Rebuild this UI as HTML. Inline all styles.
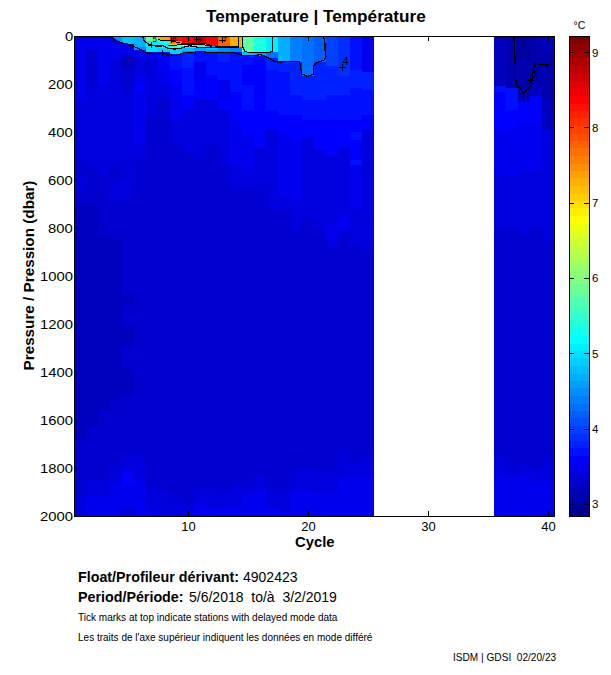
<!DOCTYPE html>
<html><head><meta charset="utf-8"><style>
html,body{margin:0;padding:0;background:#fff;}
body{width:611px;height:675px;position:relative;overflow:hidden;font-family:"Liberation Sans",sans-serif;color:#000;}
div{line-height:1;}
</style></head><body>
<svg width="611" height="675" style="position:absolute;left:0;top:0" shape-rendering="crispEdges"><rect x="74" y="36" width="12" height="64" fill="#0000ef"/><rect x="74" y="100" width="12" height="37" fill="#0000df"/><rect x="74" y="137" width="12" height="23" fill="#0000df"/><rect x="74" y="160" width="12" height="15" fill="#0000cf"/><rect x="74" y="175" width="12" height="15" fill="#0000df"/><rect x="74" y="190" width="12" height="15" fill="#0000cf"/><rect x="74" y="205" width="12" height="235" fill="#0000bf"/><rect x="74" y="440" width="12" height="56" fill="#0000cf"/><rect x="74" y="496" width="12" height="20" fill="#0000df"/><rect x="86" y="36" width="12" height="14" fill="#0000ef"/><rect x="86" y="50" width="12" height="35" fill="#0000cf"/><rect x="86" y="85" width="12" height="55" fill="#0000df"/><rect x="86" y="140" width="12" height="25" fill="#0000df"/><rect x="86" y="165" width="12" height="40" fill="#0000cf"/><rect x="86" y="205" width="12" height="221" fill="#0000bf"/><rect x="86" y="426" width="12" height="54" fill="#0000cf"/><rect x="86" y="480" width="12" height="16" fill="#0000df"/><rect x="86" y="496" width="12" height="11" fill="#0000ef"/><rect x="86" y="507" width="12" height="9" fill="#0000ef"/><rect x="98" y="36" width="12" height="49" fill="#0000ef"/><rect x="98" y="85" width="12" height="93" fill="#0000df"/><rect x="98" y="178" width="12" height="57" fill="#0000cf"/><rect x="98" y="235" width="12" height="175" fill="#0000bf"/><rect x="98" y="410" width="12" height="70" fill="#0000cf"/><rect x="98" y="480" width="12" height="16" fill="#0000df"/><rect x="98" y="496" width="12" height="20" fill="#0000ef"/><rect x="110" y="36" width="12" height="4" fill="#0000ff"/><rect x="110" y="40" width="12" height="20" fill="#0000ef"/><rect x="110" y="60" width="12" height="40" fill="#0000df"/><rect x="110" y="100" width="12" height="65" fill="#0000df"/><rect x="110" y="165" width="12" height="15" fill="#0000cf"/><rect x="110" y="180" width="12" height="20" fill="#0000df"/><rect x="110" y="200" width="12" height="40" fill="#0000cf"/><rect x="110" y="240" width="12" height="160" fill="#0000bf"/><rect x="110" y="400" width="12" height="65" fill="#0000cf"/><rect x="110" y="465" width="12" height="19" fill="#0000df"/><rect x="110" y="484" width="12" height="32" fill="#0000ef"/><rect x="122" y="36" width="12" height="8" fill="#00bfff"/><rect x="122" y="44" width="12" height="11" fill="#0000ef"/><rect x="122" y="55" width="12" height="12" fill="#0000bf"/><rect x="122" y="67" width="12" height="25" fill="#0000cf"/><rect x="122" y="92" width="12" height="108" fill="#0000df"/><rect x="122" y="200" width="12" height="76" fill="#0000cf"/><rect x="122" y="276" width="12" height="20" fill="#0000cf"/><rect x="122" y="296" width="12" height="10" fill="#0000bf"/><rect x="122" y="306" width="12" height="20" fill="#0000cf"/><rect x="122" y="326" width="12" height="22" fill="#0000bf"/><rect x="122" y="348" width="12" height="22" fill="#0000cf"/><rect x="122" y="370" width="12" height="26" fill="#0000bf"/><rect x="122" y="396" width="12" height="59" fill="#0000cf"/><rect x="122" y="455" width="12" height="17" fill="#0000df"/><rect x="122" y="472" width="12" height="12" fill="#0000ff"/><rect x="122" y="484" width="12" height="23" fill="#0000ef"/><rect x="122" y="507" width="12" height="9" fill="#0000df"/><rect x="134" y="36" width="12" height="11" fill="#00afff"/><rect x="134" y="47" width="12" height="3" fill="#008fff"/><rect x="134" y="50" width="12" height="8" fill="#0000ef"/><rect x="134" y="58" width="12" height="15" fill="#0000df"/><rect x="134" y="73" width="12" height="11" fill="#0000ef"/><rect x="134" y="84" width="12" height="8" fill="#0000ff"/><rect x="134" y="92" width="12" height="8" fill="#0000ef"/><rect x="134" y="100" width="12" height="45" fill="#0000ef"/><rect x="134" y="145" width="12" height="15" fill="#0000df"/><rect x="134" y="160" width="12" height="295" fill="#0000cf"/><rect x="134" y="455" width="12" height="25" fill="#0000df"/><rect x="134" y="480" width="12" height="32" fill="#0000ef"/><rect x="134" y="512" width="12" height="4" fill="#0000ef"/><rect x="146" y="36" width="12" height="5" fill="#70ff8f"/><rect x="146" y="41" width="12" height="6" fill="#00efff"/><rect x="146" y="47" width="12" height="5" fill="#00dfff"/><rect x="146" y="52" width="12" height="8" fill="#0000ef"/><rect x="146" y="60" width="12" height="6" fill="#0000cf"/><rect x="146" y="66" width="12" height="49" fill="#0000df"/><rect x="146" y="115" width="12" height="373" fill="#0000cf"/><rect x="146" y="488" width="12" height="24" fill="#0000df"/><rect x="146" y="512" width="12" height="4" fill="#0000ef"/><rect x="158" y="36" width="12" height="4" fill="#ff9f00"/><rect x="158" y="40" width="12" height="4" fill="#00ffff"/><rect x="158" y="44" width="12" height="4" fill="#00efff"/><rect x="158" y="48" width="12" height="4" fill="#00cfff"/><rect x="158" y="52" width="12" height="13" fill="#0000ff"/><rect x="158" y="65" width="12" height="19" fill="#0000ef"/><rect x="158" y="84" width="12" height="16" fill="#0000df"/><rect x="158" y="100" width="12" height="392" fill="#0000cf"/><rect x="158" y="492" width="12" height="24" fill="#0000df"/><rect x="170" y="36" width="12" height="5" fill="#ff1000"/><rect x="170" y="41" width="12" height="3" fill="#ff8000"/><rect x="170" y="44" width="12" height="2" fill="#ffdf00"/><rect x="170" y="46" width="12" height="3" fill="#40ffbf"/><rect x="170" y="49" width="12" height="5" fill="#00cfff"/><rect x="170" y="54" width="12" height="16" fill="#0010ff"/><rect x="170" y="70" width="12" height="15" fill="#0000ff"/><rect x="170" y="85" width="12" height="15" fill="#0000ef"/><rect x="170" y="100" width="12" height="20" fill="#0000ef"/><rect x="170" y="120" width="12" height="26" fill="#0000df"/><rect x="170" y="146" width="12" height="351" fill="#0000cf"/><rect x="170" y="497" width="12" height="19" fill="#0000df"/><rect x="182" y="36" width="12" height="7" fill="#ff0000"/><rect x="182" y="43" width="12" height="3" fill="#9fff60"/><rect x="182" y="46" width="12" height="2" fill="#00efff"/><rect x="182" y="48" width="12" height="3" fill="#00bfff"/><rect x="182" y="51" width="12" height="2" fill="#008fff"/><rect x="182" y="53" width="12" height="15" fill="#0020ff"/><rect x="182" y="68" width="12" height="27" fill="#0010ff"/><rect x="182" y="95" width="12" height="15" fill="#0000ff"/><rect x="182" y="110" width="12" height="43" fill="#0000df"/><rect x="182" y="153" width="12" height="351" fill="#0000cf"/><rect x="182" y="504" width="12" height="12" fill="#0000df"/><rect x="194" y="36" width="12" height="7" fill="#cf0000"/><rect x="194" y="43" width="12" height="2" fill="#20ffdf"/><rect x="194" y="45" width="12" height="3" fill="#20ffdf"/><rect x="194" y="48" width="12" height="4" fill="#009fff"/><rect x="194" y="52" width="12" height="10" fill="#0010ff"/><rect x="194" y="62" width="12" height="18" fill="#0000ef"/><rect x="194" y="80" width="12" height="20" fill="#0000ff"/><rect x="194" y="100" width="12" height="60" fill="#0000df"/><rect x="194" y="160" width="12" height="328" fill="#0000cf"/><rect x="194" y="488" width="12" height="16" fill="#0000df"/><rect x="194" y="504" width="12" height="12" fill="#0000ef"/><rect x="206" y="36" width="12" height="10" fill="#ff0000"/><rect x="206" y="46" width="12" height="4" fill="#00bfff"/><rect x="206" y="50" width="12" height="3" fill="#008fff"/><rect x="206" y="53" width="12" height="22" fill="#0010ff"/><rect x="206" y="75" width="12" height="25" fill="#0000ff"/><rect x="206" y="100" width="12" height="45" fill="#0000df"/><rect x="206" y="145" width="12" height="343" fill="#0000cf"/><rect x="206" y="488" width="12" height="20" fill="#0000df"/><rect x="206" y="508" width="12" height="8" fill="#0000ef"/><rect x="218" y="36" width="12" height="11" fill="#ff6000"/><rect x="218" y="47" width="12" height="4" fill="#008fff"/><rect x="218" y="51" width="12" height="2" fill="#0080ff"/><rect x="218" y="53" width="12" height="9" fill="#0020ff"/><rect x="218" y="62" width="12" height="18" fill="#0010ff"/><rect x="218" y="80" width="12" height="20" fill="#0000ef"/><rect x="218" y="100" width="12" height="10" fill="#0000ff"/><rect x="218" y="110" width="12" height="56" fill="#0000df"/><rect x="218" y="166" width="12" height="324" fill="#0000cf"/><rect x="218" y="490" width="12" height="18" fill="#0000df"/><rect x="218" y="508" width="12" height="8" fill="#0000ef"/><rect x="230" y="36" width="12" height="11" fill="#ffaf00"/><rect x="230" y="47" width="12" height="5" fill="#0080ff"/><rect x="230" y="52" width="12" height="40" fill="#0010ff"/><rect x="230" y="92" width="12" height="28" fill="#0000ff"/><rect x="230" y="120" width="12" height="45" fill="#0000ef"/><rect x="230" y="165" width="12" height="25" fill="#0000df"/><rect x="230" y="190" width="12" height="294" fill="#0000cf"/><rect x="230" y="484" width="12" height="22" fill="#0000df"/><rect x="230" y="506" width="12" height="10" fill="#0000ef"/><rect x="242" y="36" width="12" height="16" fill="#60ff9f"/><rect x="242" y="52" width="12" height="3" fill="#00bfff"/><rect x="242" y="55" width="12" height="10" fill="#0010ff"/><rect x="242" y="65" width="12" height="20" fill="#0000ff"/><rect x="242" y="85" width="12" height="25" fill="#0010ff"/><rect x="242" y="110" width="12" height="25" fill="#0000ff"/><rect x="242" y="135" width="12" height="35" fill="#0000ef"/><rect x="242" y="170" width="12" height="20" fill="#0000df"/><rect x="242" y="190" width="12" height="294" fill="#0000cf"/><rect x="242" y="484" width="12" height="10" fill="#0000df"/><rect x="242" y="494" width="12" height="22" fill="#0000ef"/><rect x="254" y="36" width="12" height="17" fill="#20ffdf"/><rect x="254" y="53" width="12" height="3" fill="#009fff"/><rect x="254" y="56" width="12" height="4" fill="#0010ff"/><rect x="254" y="60" width="12" height="87" fill="#0000ff"/><rect x="254" y="147" width="12" height="43" fill="#0000df"/><rect x="254" y="190" width="12" height="285" fill="#0000cf"/><rect x="254" y="475" width="12" height="15" fill="#0000df"/><rect x="254" y="490" width="12" height="26" fill="#0000ef"/><rect x="266" y="36" width="12" height="16" fill="#00efff"/><rect x="266" y="52" width="12" height="6" fill="#0070ff"/><rect x="266" y="58" width="12" height="12" fill="#0020ff"/><rect x="266" y="70" width="12" height="40" fill="#0010ff"/><rect x="266" y="110" width="12" height="20" fill="#0000ff"/><rect x="266" y="130" width="12" height="80" fill="#0000df"/><rect x="266" y="210" width="12" height="280" fill="#0000cf"/><rect x="266" y="490" width="12" height="17" fill="#0000df"/><rect x="266" y="507" width="12" height="9" fill="#0000ef"/><rect x="278" y="36" width="12" height="26" fill="#00afff"/><rect x="278" y="62" width="12" height="10" fill="#0020ff"/><rect x="278" y="72" width="12" height="43" fill="#0010ff"/><rect x="278" y="115" width="12" height="18" fill="#0000ff"/><rect x="278" y="133" width="12" height="62" fill="#0000ef"/><rect x="278" y="195" width="12" height="15" fill="#0000df"/><rect x="278" y="210" width="12" height="282" fill="#0000cf"/><rect x="278" y="492" width="12" height="20" fill="#0000df"/><rect x="278" y="512" width="12" height="4" fill="#0000ef"/><rect x="290" y="36" width="12" height="26" fill="#0080ff"/><rect x="290" y="62" width="12" height="33" fill="#0020ff"/><rect x="290" y="95" width="12" height="20" fill="#0010ff"/><rect x="290" y="115" width="12" height="27" fill="#0000ff"/><rect x="290" y="142" width="12" height="58" fill="#0000ef"/><rect x="290" y="200" width="12" height="32" fill="#0000df"/><rect x="290" y="232" width="12" height="238" fill="#0000cf"/><rect x="290" y="470" width="12" height="22" fill="#0000df"/><rect x="290" y="492" width="12" height="24" fill="#0000ef"/><rect x="302" y="36" width="12" height="40" fill="#0070ff"/><rect x="302" y="76" width="12" height="24" fill="#0020ff"/><rect x="302" y="100" width="12" height="20" fill="#0010ff"/><rect x="302" y="120" width="12" height="18" fill="#0000ff"/><rect x="302" y="138" width="12" height="82" fill="#0000df"/><rect x="302" y="220" width="12" height="248" fill="#0000cf"/><rect x="302" y="468" width="12" height="22" fill="#0000df"/><rect x="302" y="490" width="12" height="26" fill="#0000ef"/><rect x="314" y="36" width="12" height="26" fill="#0060ff"/><rect x="314" y="62" width="12" height="38" fill="#0020ff"/><rect x="314" y="100" width="12" height="20" fill="#0010ff"/><rect x="314" y="120" width="12" height="30" fill="#0000ff"/><rect x="314" y="150" width="12" height="82" fill="#0000df"/><rect x="314" y="232" width="12" height="240" fill="#0000cf"/><rect x="314" y="472" width="12" height="22" fill="#0000df"/><rect x="314" y="494" width="12" height="22" fill="#0000ef"/><rect x="326" y="36" width="12" height="30" fill="#0040ff"/><rect x="326" y="66" width="12" height="29" fill="#0020ff"/><rect x="326" y="95" width="12" height="25" fill="#0010ff"/><rect x="326" y="120" width="12" height="35" fill="#0000ff"/><rect x="326" y="155" width="12" height="70" fill="#0000df"/><rect x="326" y="225" width="12" height="15" fill="#0000ef"/><rect x="326" y="240" width="12" height="10" fill="#0000df"/><rect x="326" y="250" width="12" height="220" fill="#0000cf"/><rect x="326" y="470" width="12" height="22" fill="#0000df"/><rect x="326" y="492" width="12" height="24" fill="#0000ef"/><rect x="338" y="36" width="12" height="40" fill="#0030ff"/><rect x="338" y="76" width="12" height="19" fill="#0020ff"/><rect x="338" y="95" width="12" height="25" fill="#0010ff"/><rect x="338" y="120" width="12" height="27" fill="#0000ff"/><rect x="338" y="147" width="12" height="68" fill="#0000df"/><rect x="338" y="215" width="12" height="15" fill="#0000ef"/><rect x="338" y="230" width="12" height="6" fill="#0000df"/><rect x="338" y="236" width="12" height="214" fill="#0000cf"/><rect x="338" y="450" width="12" height="28" fill="#0000df"/><rect x="338" y="478" width="12" height="38" fill="#0000ef"/><rect x="350" y="36" width="12" height="34" fill="#0010ff"/><rect x="350" y="70" width="12" height="18" fill="#0020ff"/><rect x="350" y="88" width="12" height="32" fill="#0010ff"/><rect x="350" y="120" width="12" height="12" fill="#0000ff"/><rect x="350" y="132" width="12" height="8" fill="#0010ff"/><rect x="350" y="140" width="12" height="20" fill="#0000ff"/><rect x="350" y="160" width="12" height="5" fill="#0010ff"/><rect x="350" y="165" width="12" height="45" fill="#0000ef"/><rect x="350" y="210" width="12" height="35" fill="#0000df"/><rect x="350" y="245" width="12" height="217" fill="#0000cf"/><rect x="350" y="462" width="12" height="16" fill="#0000df"/><rect x="350" y="478" width="12" height="38" fill="#0000ef"/><rect x="362" y="36" width="12" height="36" fill="#0000ef"/><rect x="362" y="72" width="12" height="18" fill="#0020ff"/><rect x="362" y="90" width="12" height="25" fill="#0010ff"/><rect x="362" y="115" width="12" height="15" fill="#0000ff"/><rect x="362" y="130" width="12" height="120" fill="#0000df"/><rect x="362" y="250" width="12" height="206" fill="#0000cf"/><rect x="362" y="456" width="12" height="20" fill="#0000df"/><rect x="362" y="476" width="12" height="40" fill="#0000ef"/><rect x="494" y="36" width="12" height="50" fill="#0000bf"/><rect x="494" y="86" width="12" height="6" fill="#0010ff"/><rect x="494" y="92" width="12" height="38" fill="#0000ff"/><rect x="494" y="130" width="12" height="45" fill="#0000ef"/><rect x="494" y="175" width="12" height="53" fill="#0000df"/><rect x="494" y="228" width="12" height="227" fill="#0000cf"/><rect x="494" y="455" width="12" height="19" fill="#0000df"/><rect x="494" y="474" width="12" height="42" fill="#0000ef"/><rect x="506" y="36" width="12" height="52" fill="#0000af"/><rect x="506" y="88" width="12" height="22" fill="#0010ff"/><rect x="506" y="110" width="12" height="20" fill="#0000ff"/><rect x="506" y="130" width="12" height="45" fill="#0000ef"/><rect x="506" y="175" width="12" height="55" fill="#0000df"/><rect x="506" y="230" width="12" height="238" fill="#0000cf"/><rect x="506" y="468" width="12" height="10" fill="#0000df"/><rect x="506" y="478" width="12" height="38" fill="#0000ef"/><rect x="518" y="36" width="12" height="24" fill="#00009f"/><rect x="518" y="60" width="12" height="42" fill="#0000af"/><rect x="518" y="102" width="12" height="20" fill="#0000ff"/><rect x="518" y="122" width="12" height="48" fill="#0000ef"/><rect x="518" y="170" width="12" height="65" fill="#0000df"/><rect x="518" y="235" width="12" height="228" fill="#0000cf"/><rect x="518" y="463" width="12" height="13" fill="#0000df"/><rect x="518" y="476" width="12" height="40" fill="#0000ef"/><rect x="530" y="36" width="12" height="48" fill="#0000af"/><rect x="530" y="84" width="12" height="12" fill="#0000bf"/><rect x="530" y="96" width="12" height="26" fill="#0000ff"/><rect x="530" y="122" width="12" height="48" fill="#0000ef"/><rect x="530" y="170" width="12" height="58" fill="#0000df"/><rect x="530" y="228" width="12" height="227" fill="#0000cf"/><rect x="530" y="455" width="12" height="13" fill="#0000cf"/><rect x="530" y="468" width="12" height="14" fill="#0000df"/><rect x="530" y="482" width="12" height="34" fill="#0000ef"/><rect x="542" y="36" width="12" height="14" fill="#0000bf"/><rect x="542" y="50" width="12" height="50" fill="#0000af"/><rect x="542" y="100" width="12" height="30" fill="#0000bf"/><rect x="542" y="130" width="12" height="35" fill="#0000df"/><rect x="542" y="165" width="12" height="77" fill="#0000df"/><rect x="542" y="242" width="12" height="215" fill="#0000cf"/><rect x="542" y="457" width="12" height="23" fill="#0000df"/><rect x="542" y="480" width="12" height="36" fill="#0000ef"/><rect x="374" y="36" width="120" height="480" fill="#fff"/><polygon points="110.8,36 122,36 122,43" fill="#008fff" shape-rendering="auto"/><polyline points="110.8,36.5 115.7,40.9 121.6,42.8 127.5,43.8 134.4,46.8 141.3,49.7 146.2,52.7 159,53.6 164.8,53.6 169.7,54.6 174.7,55.6 178.6,54.6 184.5,52.7 192.3,52.7 196.3,51.7 202,51.7 213.7,52.8 234.4,52.8 240,54.6 244.7,55.8 252.7,55.8 260.7,54.6 264.2,55.8 268.7,58 274.5,61.5 278,62 299.7,61.5 300.8,68.4 302,74.1 307.7,76.4 313.4,74.1 313.4,66 316.9,62.6 323.7,60.4 326,56.9 324.9,50 324.9,43.2 323.7,36.5" fill="none" stroke="#000" stroke-width="1.2" stroke-linejoin="round"/><polyline points="242.4,36.5 242.4,46.6 244.7,51.2 249.3,52.8 268.7,52.8 272.2,51.2 272.9,36.5" fill="none" stroke="#000" stroke-width="1.2" stroke-linejoin="round"/><polyline points="513.9,36.5 514.4,50.6 514.9,54.8 515.4,75.5 516.5,85.9 519.6,87.4 523.2,93.2 524,99.4" fill="none" stroke="#000" stroke-width="1.2" stroke-linejoin="round"/><polyline points="523.2,93.2 531.5,84.9 532,79.7 533.6,67.2 535.7,63.6 540.3,64.6 548.6,65.1" fill="none" stroke="#000" stroke-width="1.2" stroke-linejoin="round"/><line x1="188.5" y1="36" x2="188.5" y2="41" stroke="#000"/><line x1="308.5" y1="36" x2="308.5" y2="41" stroke="#000"/><line x1="428.5" y1="36" x2="428.5" y2="41" stroke="#000"/><line x1="548.5" y1="36" x2="548.5" y2="41" stroke="#000"/><polyline points="142.5,36.5 143.8,39.9 146.1,42.5 148.4,43.8 152,45.5 156.9,46.1 162.8,45.8 168,48.4 174,49.0 179.8,48.5 185,46.8 189.6,45.8 196.2,46.8 198.2,47.4 209.3,47.4 218,47 230,47 238.5,47 238.5,36.5" fill="none" stroke="#000" stroke-width="1.3" stroke-linejoin="round"/><polyline points="168,45.5 176.8,45 185,44 204.8,45 212,46.5" fill="none" stroke="#000" stroke-width="1.0" stroke-linejoin="round"/><polyline points="158,39.9 170,40.5 180,43 205,43.3 212,45.5" fill="none" stroke="#000" stroke-width="1.0" stroke-linejoin="round"/><text x="342.6" y="65" font-family="Liberation Sans" font-size="11" fill="#000">4</text><path d="M339.3,67.5 H345.7 M342.5,64.3 V70.7" stroke="#000" stroke-width="1" fill="none"/><text x="530.8" y="77.2" font-family="Liberation Sans" font-size="11" fill="#000">3</text><path d="M527.3,80.5 H533.7 M530.5,77.3 V83.7" stroke="#000" stroke-width="1" fill="none"/><text x="152.5" y="42.3" font-family="Liberation Sans" font-size="8" fill="#000">5</text><path d="M147.8,45 H154.2 M151,41.8 V48.2" stroke="#000" stroke-width="1" fill="none"/><path d="M158.8,53 H165.2 M162,49.8 V56.2" stroke="#000" stroke-width="1" fill="none"/><text x="172" y="42.3" font-family="Liberation Sans" font-size="8" fill="#000">6</text><path d="M168.5,40 H174.89999999999998 M171.7,36.8 V43.2" stroke="#000" stroke-width="1" fill="none"/><text x="197" y="42.3" font-family="Liberation Sans" font-size="8" fill="#000">9</text><path d="M193.3,39 H199.7 M196.5,35.8 V42.2" stroke="#000" stroke-width="1" fill="none"/><text x="222.5" y="42.3" font-family="Liberation Sans" font-size="8" fill="#000">7</text><path d="M219.3,40 H225.7 M222.5,36.8 V43.2" stroke="#000" stroke-width="1" fill="none"/><rect x="74.5" y="36.5" width="480" height="479.5" fill="none" stroke="#000" stroke-width="1"/><line x1="188.5" y1="516" x2="188.5" y2="511" stroke="#000"/><line x1="308.5" y1="516" x2="308.5" y2="511" stroke="#000"/><line x1="428.5" y1="516" x2="428.5" y2="511" stroke="#000"/><line x1="548.5" y1="516" x2="548.5" y2="511" stroke="#000"/><rect x="569" y="508" width="20" height="8" fill="#00008f"/><rect x="569" y="501" width="20" height="7" fill="#00009f"/><rect x="569" y="494" width="20" height="7" fill="#0000af"/><rect x="569" y="486" width="20" height="8" fill="#0000bf"/><rect x="569" y="478" width="20" height="8" fill="#0000cf"/><rect x="569" y="471" width="20" height="7" fill="#0000df"/><rect x="569" y="464" width="20" height="7" fill="#0000ef"/><rect x="569" y="456" width="20" height="8" fill="#0000ff"/><rect x="569" y="448" width="20" height="8" fill="#0010ff"/><rect x="569" y="441" width="20" height="7" fill="#0020ff"/><rect x="569" y="434" width="20" height="7" fill="#0030ff"/><rect x="569" y="426" width="20" height="8" fill="#0040ff"/><rect x="569" y="418" width="20" height="8" fill="#0050ff"/><rect x="569" y="411" width="20" height="7" fill="#0060ff"/><rect x="569" y="404" width="20" height="7" fill="#0070ff"/><rect x="569" y="396" width="20" height="8" fill="#0080ff"/><rect x="569" y="388" width="20" height="8" fill="#008fff"/><rect x="569" y="381" width="20" height="7" fill="#009fff"/><rect x="569" y="374" width="20" height="7" fill="#00afff"/><rect x="569" y="366" width="20" height="8" fill="#00bfff"/><rect x="569" y="358" width="20" height="8" fill="#00cfff"/><rect x="569" y="351" width="20" height="7" fill="#00dfff"/><rect x="569" y="344" width="20" height="7" fill="#00efff"/><rect x="569" y="336" width="20" height="8" fill="#00ffff"/><rect x="569" y="328" width="20" height="8" fill="#10ffef"/><rect x="569" y="321" width="20" height="7" fill="#20ffdf"/><rect x="569" y="314" width="20" height="7" fill="#30ffcf"/><rect x="569" y="306" width="20" height="8" fill="#40ffbf"/><rect x="569" y="298" width="20" height="8" fill="#50ffaf"/><rect x="569" y="291" width="20" height="7" fill="#60ff9f"/><rect x="569" y="284" width="20" height="7" fill="#70ff8f"/><rect x="569" y="276" width="20" height="8" fill="#80ff80"/><rect x="569" y="268" width="20" height="8" fill="#8fff70"/><rect x="569" y="261" width="20" height="7" fill="#9fff60"/><rect x="569" y="254" width="20" height="7" fill="#afff50"/><rect x="569" y="246" width="20" height="8" fill="#bfff40"/><rect x="569" y="238" width="20" height="8" fill="#cfff30"/><rect x="569" y="231" width="20" height="7" fill="#dfff20"/><rect x="569" y="224" width="20" height="7" fill="#efff10"/><rect x="569" y="216" width="20" height="8" fill="#ffff00"/><rect x="569" y="208" width="20" height="8" fill="#ffef00"/><rect x="569" y="201" width="20" height="7" fill="#ffdf00"/><rect x="569" y="194" width="20" height="7" fill="#ffcf00"/><rect x="569" y="186" width="20" height="8" fill="#ffbf00"/><rect x="569" y="178" width="20" height="8" fill="#ffaf00"/><rect x="569" y="171" width="20" height="7" fill="#ff9f00"/><rect x="569" y="164" width="20" height="7" fill="#ff8f00"/><rect x="569" y="156" width="20" height="8" fill="#ff8000"/><rect x="569" y="148" width="20" height="8" fill="#ff7000"/><rect x="569" y="141" width="20" height="7" fill="#ff6000"/><rect x="569" y="134" width="20" height="7" fill="#ff5000"/><rect x="569" y="126" width="20" height="8" fill="#ff4000"/><rect x="569" y="118" width="20" height="8" fill="#ff3000"/><rect x="569" y="111" width="20" height="7" fill="#ff2000"/><rect x="569" y="104" width="20" height="7" fill="#ff1000"/><rect x="569" y="96" width="20" height="8" fill="#ff0000"/><rect x="569" y="88" width="20" height="8" fill="#ef0000"/><rect x="569" y="81" width="20" height="7" fill="#df0000"/><rect x="569" y="74" width="20" height="7" fill="#cf0000"/><rect x="569" y="66" width="20" height="8" fill="#bf0000"/><rect x="569" y="58" width="20" height="8" fill="#af0000"/><rect x="569" y="51" width="20" height="7" fill="#9f0000"/><rect x="569" y="44" width="20" height="7" fill="#8f0000"/><rect x="569" y="36" width="20" height="8" fill="#800000"/><rect x="569.5" y="36.5" width="19.5" height="479.5" fill="none" stroke="#000"/><line x1="569" y1="504.4" x2="574" y2="504.4" stroke="#000"/><line x1="584" y1="504.4" x2="589" y2="504.4" stroke="#000"/><line x1="569" y1="429.1" x2="574" y2="429.1" stroke="#000"/><line x1="584" y1="429.1" x2="589" y2="429.1" stroke="#000"/><line x1="569" y1="353.8" x2="574" y2="353.8" stroke="#000"/><line x1="584" y1="353.8" x2="589" y2="353.8" stroke="#000"/><line x1="569" y1="278.4" x2="574" y2="278.4" stroke="#000"/><line x1="584" y1="278.4" x2="589" y2="278.4" stroke="#000"/><line x1="569" y1="203.1" x2="574" y2="203.1" stroke="#000"/><line x1="584" y1="203.1" x2="589" y2="203.1" stroke="#000"/><line x1="569" y1="127.8" x2="574" y2="127.8" stroke="#000"/><line x1="584" y1="127.8" x2="589" y2="127.8" stroke="#000"/><line x1="569" y1="52.5" x2="574" y2="52.5" stroke="#000"/><line x1="584" y1="52.5" x2="589" y2="52.5" stroke="#000"/></svg>
<div style="position:absolute;left:206px;top:8.5px;font-size:16px;font-weight:bold;white-space:nowrap;transform:scaleX(1.073);transform-origin:0 0">Temperature | Température</div><div style="position:absolute;left:294.5px;top:534px;font-size:15.5px;font-weight:bold;white-space:nowrap;transform:scaleX(0.955);transform-origin:0 0">Cycle</div><div style="position:absolute;right:538px;top:30px;font-size:13px;font-weight:normal;white-space:nowrap;transform:scaleX(1.14);transform-origin:100% 0">0</div><div style="position:absolute;right:538px;top:78px;font-size:13px;font-weight:normal;white-space:nowrap;transform:scaleX(1.14);transform-origin:100% 0">200</div><div style="position:absolute;right:538px;top:126px;font-size:13px;font-weight:normal;white-space:nowrap;transform:scaleX(1.14);transform-origin:100% 0">400</div><div style="position:absolute;right:538px;top:174px;font-size:13px;font-weight:normal;white-space:nowrap;transform:scaleX(1.14);transform-origin:100% 0">600</div><div style="position:absolute;right:538px;top:222px;font-size:13px;font-weight:normal;white-space:nowrap;transform:scaleX(1.14);transform-origin:100% 0">800</div><div style="position:absolute;right:538px;top:270px;font-size:13px;font-weight:normal;white-space:nowrap;transform:scaleX(1.14);transform-origin:100% 0">1000</div><div style="position:absolute;right:538px;top:318px;font-size:13px;font-weight:normal;white-space:nowrap;transform:scaleX(1.14);transform-origin:100% 0">1200</div><div style="position:absolute;right:538px;top:366px;font-size:13px;font-weight:normal;white-space:nowrap;transform:scaleX(1.14);transform-origin:100% 0">1400</div><div style="position:absolute;right:538px;top:414px;font-size:13px;font-weight:normal;white-space:nowrap;transform:scaleX(1.14);transform-origin:100% 0">1600</div><div style="position:absolute;right:538px;top:462px;font-size:13px;font-weight:normal;white-space:nowrap;transform:scaleX(1.14);transform-origin:100% 0">1800</div><div style="position:absolute;right:538px;top:510px;font-size:13px;font-weight:normal;white-space:nowrap;transform:scaleX(1.14);transform-origin:100% 0">2000</div><div style="position:absolute;left:88.5px;width:200px;text-align:center;top:520px;font-size:13px;font-weight:normal;white-space:nowrap;transform:scaleX(1.0);transform-origin:50% 0">10</div><div style="position:absolute;left:208.5px;width:200px;text-align:center;top:520px;font-size:13px;font-weight:normal;white-space:nowrap;transform:scaleX(1.0);transform-origin:50% 0">20</div><div style="position:absolute;left:328.5px;width:200px;text-align:center;top:520px;font-size:13px;font-weight:normal;white-space:nowrap;transform:scaleX(1.0);transform-origin:50% 0">30</div><div style="position:absolute;left:448.5px;width:200px;text-align:center;top:520px;font-size:13px;font-weight:normal;white-space:nowrap;transform:scaleX(1.0);transform-origin:50% 0">40</div><div style="position:absolute;left:592px;top:499.3999999999999px;font-size:11.5px;font-weight:normal;white-space:nowrap;transform:scaleX(1.0);transform-origin:0 0">3</div><div style="position:absolute;left:592px;top:424.0833333333333px;font-size:11.5px;font-weight:normal;white-space:nowrap;transform:scaleX(1.0);transform-origin:0 0">4</div><div style="position:absolute;left:592px;top:348.76666666666665px;font-size:11.5px;font-weight:normal;white-space:nowrap;transform:scaleX(1.0);transform-origin:0 0">5</div><div style="position:absolute;left:592px;top:273.44999999999993px;font-size:11.5px;font-weight:normal;white-space:nowrap;transform:scaleX(1.0);transform-origin:0 0">6</div><div style="position:absolute;left:592px;top:198.13333333333333px;font-size:11.5px;font-weight:normal;white-space:nowrap;transform:scaleX(1.0);transform-origin:0 0">7</div><div style="position:absolute;left:592px;top:122.81666666666666px;font-size:11.5px;font-weight:normal;white-space:nowrap;transform:scaleX(1.0);transform-origin:0 0">8</div><div style="position:absolute;left:592px;top:47.5px;font-size:11.5px;font-weight:normal;white-space:nowrap;transform:scaleX(1.0);transform-origin:0 0">9</div><div style="position:absolute;left:573.5px;top:20px;font-size:10.5px;font-weight:normal;white-space:nowrap;transform:scaleX(1.0);transform-origin:0 0">°C</div><div style="position:absolute;left:78px;top:570px;font-size:14px;font-weight:bold;white-space:nowrap;transform:scaleX(1.02);transform-origin:0 0">Float/Profileur dérivant:</div><div style="position:absolute;left:243px;top:570px;font-size:14px;font-weight:normal;white-space:nowrap;transform:scaleX(1.0);transform-origin:0 0">4902423</div><div style="position:absolute;left:78px;top:590px;font-size:14px;font-weight:bold;white-space:nowrap;transform:scaleX(1.02);transform-origin:0 0">Period/Période:</div><div style="position:absolute;left:189px;top:590px;font-size:14px;font-weight:normal;white-space:nowrap;transform:scaleX(1.0);transform-origin:0 0">5/6/2018&nbsp; to/à&nbsp; 3/2/2019</div><div style="position:absolute;left:78px;top:613px;font-size:10.3px;font-weight:normal;white-space:nowrap;transform:scaleX(0.974);transform-origin:0 0">Tick marks at top indicate stations with delayed mode data</div><div style="position:absolute;left:78px;top:633px;font-size:10.3px;font-weight:normal;white-space:nowrap;transform:scaleX(0.972);transform-origin:0 0">Les traits de l'axe supérieur indiquent les données en mode différé</div><div style="position:absolute;right:55px;top:653px;font-size:10.3px;font-weight:normal;white-space:nowrap;transform:scaleX(0.981);transform-origin:100% 0">ISDM | GDSI&nbsp; 02/20/23</div><div style="position:absolute;left:27.5px;top:276px;width:0;height:0"><div style="position:absolute;left:-100px;top:-8px;width:200px;text-align:center;transform:rotate(-90deg) scaleX(1.017);font-size:15px;font-weight:bold;white-space:nowrap">Pressure / Pression (dbar)</div></div>
</body></html>
